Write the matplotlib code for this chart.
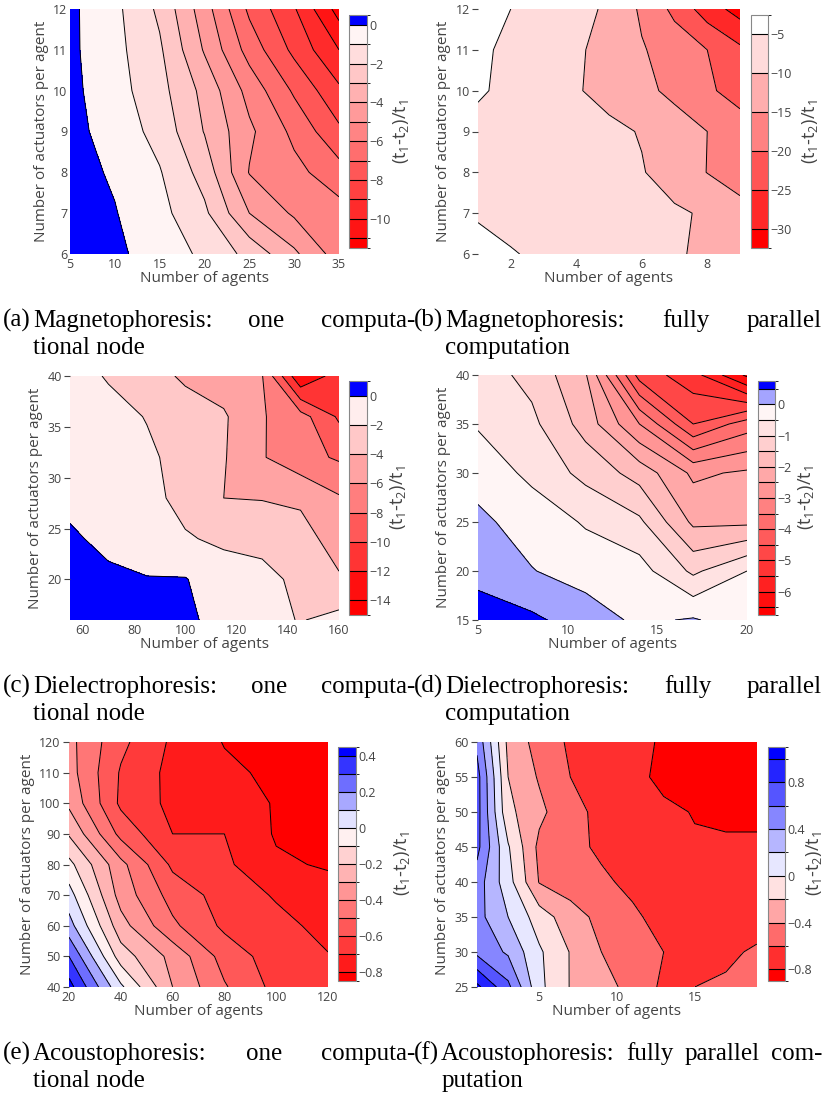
import numpy as np
import matplotlib
matplotlib.use("Agg")
import matplotlib.pyplot as plt
from matplotlib.colors import ListedColormap, BoundaryNorm
from matplotlib.cm import ScalarMappable

plt.rcParams['font.family'] = ['Open Sans', 'DejaVu Sans']
plt.rcParams['mathtext.fontset'] = 'custom'
plt.rcParams['mathtext.rm'] = 'Open Sans'
plt.rcParams['mathtext.default'] = 'regular'

# ---- data (rows: actuators ascending, cols: agents ascending) ----
a_agents = [5, 10, 15, 20, 25, 30, 35]
a_actuators = [6, 7, 8, 9, 10, 11, 12]
a_ratio = [
    [0.45, 0.20, -0.45, -1.20, -2.30, -3.80, -5.50],
    [0.40, 0.05, -0.70, -1.80, -4.00, -5.15, -5.60],
    [0.35, -0.12, -0.93, -2.40, -5.05, -5.70, -6.60],
    [0.30, -0.40, -1.35, -3.05, -4.80, -6.25, -7.80],
    [0.25, -0.60, -1.65, -3.30, -5.35, -7.15, -8.80],
    [0.20, -0.70, -1.85, -4.10, -6.40, -8.25, -10.0],
    [0.20, -0.75, -2.20, -4.55, -7.20, -8.90, -11.4],
]

b_agents = [1, 2, 3, 4, 5, 6, 7, 8, 9]
b_actuators = [6, 7, 8, 9, 10, 11, 12]
b_ratio = [
    [-4.0, -4.7, -5.8, -6.8, -7.6, -8.4, -9.4, -11.0, -12.5],
    [-5.3, -6.4, -7.2, -7.8, -8.3, -8.8, -9.3, -10.6, -13.5],
    [-6.0, -6.8, -7.5, -8.2, -8.9, -9.7, -12.2, -15.1, -17.0],
    [-5.5, -6.5, -7.3, -8.0, -8.9, -10.3, -12.6, -15.0, -17.5],
    [-4.8, -5.4, -8.0, -9.6, -11.6, -13.7, -16.2, -19.2, -22.0],
    [-4.2, -5.9, -7.5, -9.3, -11.7, -14.6, -17.2, -20.0, -24.0],
    [-3.5, -5.0, -6.8, -8.6, -10.7, -15.8, -21.2, -27.5, -32.0],
]

c_agents = [55, 70, 85, 100, 115, 130, 145, 160]
c_actuators = [16, 20, 24, 28, 32, 36, 40]
c_ratio = [
    [0.9, 0.8, 0.6, 0.45, -0.8, -1.4, -2.1, -1.4],
    [0.8, 0.4, 0.1, 0.1, -1.2, -1.5, -2.4, -3.8],
    [0.3, -0.5, -1.1, -1.85, -2.3, -2.5, -3.3, -4.8],
    [-0.5, -0.9, -1.5, -2.5, -4.0, -4.1, -4.3, -5.8],
    [-0.4, -0.9, -1.6, -2.8, -3.85, -5.85, -7.3, -8.25],
    [-0.5, -1.2, -2.1, -3.1, -3.75, -5.85, -7.2, -10.3],
    [-1.0, -2.2, -3.2, -4.3, -5.0, -5.9, -13.8, -11.0],
]

d_agents = [5, 8, 11, 14, 17, 20]
d_actuators = [15, 20, 25, 30, 35, 40]
d_ratio = [
    [0.70, 0.60, 0.25, -0.10, 0.05, -0.30],
    [0.37, 0.02, -0.20, -0.30, -1.10, -0.50],
    [0.10, -0.20, -0.55, -0.90, -2.10, -2.10],
    [-0.18, -0.62, -1.15, -1.70, -2.60, -2.42],
    [-0.55, -0.88, -1.70, -3.00, -4.50, -3.75],
    [-0.75, -1.15, -1.95, -4.70, -5.30, -6.60],
]

e_agents = [20, 40, 60, 80, 100, 120]
e_actuators = [40, 50, 60, 70, 80, 90, 100, 110, 120]
e_ratio = [
    [0.44, 0.02, -0.30, -0.49, -0.63, -0.67],
    [0.30, -0.15, -0.33, -0.54, -0.65, -0.695],
    [0.14, -0.26, -0.48, -0.62, -0.67, -0.73],
    [0.04, -0.34, -0.54, -0.64, -0.71, -0.76],
    [-0.07, -0.37, -0.62, -0.68, -0.785, -0.81],
    [-0.21, -0.53, -0.70, -0.70, -0.81, -0.82],
    [-0.32, -0.62, -0.725, -0.765, -0.805, -0.82],
    [-0.36, -0.61, -0.73, -0.78, -0.82, -0.83],
    [-0.37, -0.575, -0.717, -0.805, -0.83, -0.84],
]

f_agents = [1, 3, 5, 7, 9, 11, 13, 15, 17, 19]
f_actuators = [25, 30, 35, 40, 45, 50, 55, 60]
f_ratio = [
    [1.05, 0.65, 0.05, -0.21, -0.33, -0.46, -0.64, -0.60, -0.57, -0.56],
    [0.55, 0.37, 0.03, -0.21, -0.40, -0.50, -0.60, -0.66, -0.64, -0.57],
    [0.47, 0.20, -0.10, -0.31, -0.46, -0.57, -0.66, -0.72, -0.73, -0.70],
    [0.50, 0.08, -0.41, -0.50, -0.57, -0.64, -0.70, -0.74, -0.76, -0.77],
    [0.66, 0.02, -0.45, -0.55, -0.63, -0.68, -0.73, -0.78, -0.77, -0.77],
    [0.68, -0.15, -0.35, -0.55, -0.64, -0.70, -0.76, -0.81, -0.84, -0.84],
    [0.68, -0.20, -0.42, -0.60, -0.65, -0.74, -0.85, -0.86, -0.86, -0.86],
    [0.55, -0.25, -0.48, -0.63, -0.68, -0.75, -0.82, -0.84, -0.85, -0.85],
]

W, H = 826, 1096
GREY = '#444444'
fig = plt.figure(figsize=(W / 100, H / 100), dpi=100)


def px_axes(x0, y0, x1, y1):
    return fig.add_axes([x0 / W, 1 - y1 / H, (x1 - x0) / W, (y1 - y0) / H])


BLUE = np.array([0.0, 0.0, 1.0])
RED = np.array([1.0, 0.0, 0.0])
WHITE = np.ones(3)


def scale_color(v, zmin, zmax):
    mid = 0.0 if zmax > 0 else zmax
    if v >= mid:
        if zmax <= mid:
            return WHITE
        t = min((v - mid) / (zmax - mid), 1.0)
        return WHITE + (BLUE - WHITE) * t
    t = min((v - mid) / (zmin - mid), 1.0)
    return WHITE + (RED - WHITE) * t


def draw_panel(ax, cax, x, y, z, start, size, nlev, xticks, yticks, cticks,
               label_x, ytickmarks=True):
    z = np.array(z)
    levels = start + size * np.arange(nlev)
    zmin, zmax = z.min(), z.max()
    mids = [levels[0] - size / 2] + list((levels[:-1] + levels[1:]) / 2) + [levels[-1] + size / 2]
    colors = [scale_color(m, zmin, zmax) for m in mids]
    big = 1e6
    ax.contourf(x, y, z, levels=[-big] + list(levels) + [big], colors=colors)
    ax.contour(x, y, z, levels=levels, colors='k', linewidths=0.7, linestyles='solid')
    ax.set_xlim(x[0], x[-1])
    ax.set_ylim(y[0], y[-1])
    ax.set_xticks(xticks)
    ax.set_yticks(yticks)
    for s in ax.spines.values():
        s.set_visible(False)
    ax.tick_params(axis='x', length=0, labelsize=9, colors=GREY, pad=3)
    ax.tick_params(axis='y', length=4 if ytickmarks else 0, width=0.8,
                   labelsize=9, colors=GREY, pad=2)
    ax.set_xlabel('Number of agents', fontsize=11, color=GREY, labelpad=0)
    ax.set_ylabel('Number of actuators per agent', fontsize=11, color=GREY, labelpad=3)

    bounds = [levels[0] - size / 2] + list(levels) + [levels[-1] + size / 2]
    sm = ScalarMappable(norm=BoundaryNorm(bounds, len(colors)), cmap=ListedColormap(colors))
    cb = fig.colorbar(sm, cax=cax, spacing='proportional', ticks=cticks)
    cb.set_ticklabels([('%g' % t).replace('-', '\u2212') for t in cticks])
    cax.hlines(levels, 0, 1, colors='k', lw=0.8)
    cb.outline.set_edgecolor('#888888')
    cb.outline.set_linewidth(0.8)
    cax.tick_params(length=0, labelsize=9, colors=GREY, pad=1.5)
    box = cax.get_position()
    cax.text((label_x / W - box.x0) / box.width, 0.5, '(t$_{1}$-t$_{2}$)/t$_{1}$',
             transform=cax.transAxes, rotation=90, ha='center', va='center',
             fontsize=13, color=GREY)


ax = px_axes(70, 9, 339, 254)
cax = px_axes(349, 15, 367, 248)
draw_panel(ax, cax, a_agents, a_actuators, a_ratio, -11, 1, 12,
           [5, 10, 15, 20, 25, 30, 35], [6, 7, 8, 9, 10, 11, 12],
           [0, -2, -4, -6, -8, -10], 401, ytickmarks=False)

ax = px_axes(478, 9, 740, 254)
cax = px_axes(751, 15, 768, 248)
draw_panel(ax, cax, b_agents, b_actuators, b_ratio, -30, 5, 6,
           [2, 4, 6, 8], [6, 7, 8, 9, 10, 11, 12],
           [-5, -10, -15, -20, -25, -30], 810)

ax = px_axes(70, 376, 339, 620)
cax = px_axes(349, 381, 367, 615)
draw_panel(ax, cax, c_agents, c_actuators, c_ratio, -14, 2, 8,
           [60, 80, 100, 120, 140, 160], [20, 25, 30, 35, 40],
           [0, -2, -4, -6, -8, -10, -12, -14], 398)

ax = px_axes(478, 375, 747, 620)
cax = px_axes(758, 381, 775, 615)
draw_panel(ax, cax, d_agents, d_actuators, d_ratio, -6.5, 0.5, 15,
           [5, 10, 15, 20], [15, 20, 25, 30, 35, 40],
           [0, -1, -2, -3, -4, -5, -6], 806)

ax = px_axes(69, 742, 328, 987)
cax = px_axes(338, 747, 356, 981)
draw_panel(ax, cax, e_agents, e_actuators, e_ratio, -0.8, 0.1, 13,
           [20, 40, 60, 80, 100, 120], [40, 50, 60, 70, 80, 90, 100, 110, 120],
           [0.4, 0.2, 0, -0.2, -0.4, -0.6, -0.8], 402)

ax = px_axes(477, 742, 757, 987)
cax = px_axes(768, 747, 785, 981)
draw_panel(ax, cax, f_agents, f_actuators, f_ratio, -0.8, 0.2, 10,
           [5, 10, 15], [25, 30, 35, 40, 45, 50, 55, 60],
           [0.8, 0.4, 0, -0.4, -0.8], 814)

# ---- sub-captions, justified like the LaTeX original ----
CAP = dict(family='Liberation Serif', fontsize=18, color='black', va='baseline')
renderer = fig.canvas.get_renderer()


def width_px(t):
    return t.get_window_extent(renderer).width


def justified(words, x0, x1, y):
    texts = [fig.text(0, 1 - y / H, w, **CAP) for w in words]
    widths = [width_px(t) for t in texts]
    gap = (x1 - x0 - sum(widths)) / (len(words) - 1)
    x = x0
    for t, w in zip(texts, widths):
        t.set_x(x / W)
        x += w + gap


captions = [
    ('(a)', 3, ['Magnetophoresis:', 'one', 'computa-'], 415, 'tional node', 327),
    ('(b)', 414, ['Magnetophoresis:', 'fully', 'parallel'], 822, 'computation', 327),
    ('(c)', 3, ['Dielectrophoresis:', 'one', 'computa-'], 415, 'tional node', 693),
    ('(d)', 414, ['Dielectrophoresis:', 'fully', 'parallel'], 822, 'computation', 693),
    ('(e)', 3, ['Acoustophoresis:', 'one', 'computa-'], 415, 'tional node', 1060),
    ('(f)', 414, ['Acoustophoresis:', 'fully', 'parallel', 'com-'], 822, 'putation', 1060),
]
for label, xl, words, x1, second, yb in captions:
    lab = fig.text(xl / W, 1 - yb / H, label, **CAP)
    x0 = xl + width_px(lab) + 2
    justified(words, x0, x1, yb)
    fig.text(x0 / W, 1 - (yb + 27) / H, second, **CAP)

fig.savefig('out.png', dpi=100)
